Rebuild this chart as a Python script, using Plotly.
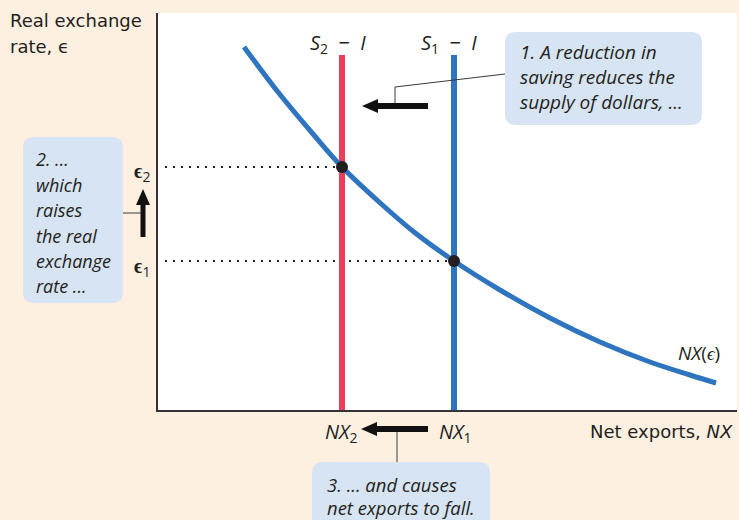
import plotly.graph_objects as go

# ---- data (units = chart axis units) ----
nx_curve_x = [86, 120, 155, 184, 220, 256, 296, 342, 392, 442, 492, 532, 558]
nx_curve_eps = [363, 318, 276, 243, 209, 178, 149, 120, 92, 68, 48, 35, 27]
nx2 = 184      # S2 - I
nx1 = 296      # S1 - I
eps2 = 243
eps1 = 149
supply_top = 355

W, H = 739, 520
ML, MR, MT, MB = 158, 2, 13, 110
PW, PH = W - ML - MR, H - MT - MB

def px(x):
    return (x - ML) / PW

def py(y):
    return (H - MB - y) / PH

CREAM = "#fdf0e0"
BOXC = "#d7e4f3"
BLUE = "#2f74bf"
RED = "#e8405c"
INK = "#231f20"
FONT = "Open Sans"
UFONT = "DejaVu Sans"

fig = go.Figure()

# dotted guide lines
fig.add_trace(go.Scatter(x=[7, nx2], y=[eps2, eps2], mode="lines",
                         line=dict(color=INK, width=2, dash="2px,6px"), hoverinfo="skip"))
fig.add_trace(go.Scatter(x=[7, nx1], y=[eps1, eps1], mode="lines",
                         line=dict(color=INK, width=2, dash="2px,6px"), hoverinfo="skip"))
# supply lines
fig.add_trace(go.Scatter(x=[nx2, nx2], y=[0, supply_top], mode="lines",
                         line=dict(color=RED, width=6), hoverinfo="skip"))
fig.add_trace(go.Scatter(x=[nx1, nx1], y=[0, supply_top], mode="lines",
                         line=dict(color=BLUE, width=6), hoverinfo="skip"))
# NX curve
fig.add_trace(go.Scatter(x=nx_curve_x, y=nx_curve_eps, mode="lines",
                         line=dict(color=BLUE, width=5, shape="spline", smoothing=1.0),
                         hoverinfo="skip"))
# equilibrium points
fig.add_trace(go.Scatter(x=[nx2, nx1], y=[eps2, eps1], mode="markers",
                         marker=dict(color=INK, size=12), hoverinfo="skip"))

shapes = []

def rbox(x0, y0, x1, y1, r=11):
    p = (f"M {px(x0+r)},{py(y0)} L {px(x1-r)},{py(y0)} "
         f"Q {px(x1)},{py(y0)} {px(x1)},{py(y0+r)} "
         f"L {px(x1)},{py(y1-r)} Q {px(x1)},{py(y1)} {px(x1-r)},{py(y1)} "
         f"L {px(x0+r)},{py(y1)} Q {px(x0)},{py(y1)} {px(x0)},{py(y1-r)} "
         f"L {px(x0)},{py(y0+r)} Q {px(x0)},{py(y0)} {px(x0+r)},{py(y0)} Z")
    shapes.append(dict(type="path", path=p, xref="paper", yref="paper",
                       fillcolor=BOXC, line=dict(width=0), layer="above"))

def seg(x0, y0, x1, y1, w=1, c="#3a3a3a"):
    shapes.append(dict(type="line", xref="paper", yref="paper",
                       x0=px(x0), y0=py(y0), x1=px(x1), y1=py(y1),
                       line=dict(color=c, width=w), layer="above"))

def tri(pts):
    p = "M " + " L ".join(f"{px(a)},{py(b)}" for a, b in pts) + " Z"
    shapes.append(dict(type="path", path=p, xref="paper", yref="paper",
                       fillcolor="#111", line=dict(width=0), layer="above"))

rbox(505, 32, 702, 125)
rbox(23, 137, 123, 303)
rbox(312, 462, 490, 535)

# leaders
seg(505, 74, 395, 87)
seg(395, 87, 395, 104)
seg(123, 213, 141, 213)
seg(397, 430, 397, 462)

# arrows
seg(428, 106, 375, 106, w=6, c="#111")
tri([(362, 106), (378, 99), (378, 113)])
seg(428, 429, 374, 429, w=6, c="#111")
tri([(361, 429), (377, 422), (377, 436)])
seg(143, 237, 143, 203, w=5, c="#111")
tri([(143, 189), (136, 205), (150, 205)])

ann = []

def txt(x, y, s, size=18, xa="left", color=INK, family=FONT):
    ann.append(dict(x=px(x), y=py(y), xref="paper", yref="paper", text=s,
                    showarrow=False, xanchor=xa, yanchor="middle",
                    font=dict(family=family, size=size, color=color)))

txt(8, 21, "Real exchange", size=18, family=UFONT)
txt(8, 46, "rate, ϵ", size=18, family=UFONT)

for i, line in enumerate(["1. A reduction in", "saving reduces the", "supply of dollars, ..."]):
    txt(518, 52 + 25 * i, "<i>" + line + "</i>", size=19)
for i, line in enumerate(["2. ...", "which", "raises", "the real", "exchange", "rate ..."]):
    txt(34, 159 + 25.5 * i, "<i>" + line + "</i>", size=18)
for i, line in enumerate(["3. ... and causes", "net exports to fall."]):
    txt(325, 484 + 23.5 * i, "<i>" + line + "</i>", size=18.5)

txt(338, 43, "<i>S</i><sub>2</sub>  −  <i>I</i>", xa="center", size=20)
txt(449, 43, "<i>S</i><sub>1</sub>  −  <i>I</i>", xa="center", size=20)
txt(142, 171, "<b>ϵ</b><sub>2</sub>", xa="center", size=20)
txt(142, 266, "<b>ϵ</b><sub>1</sub>", xa="center", size=20)
txt(341, 432, "<i>NX</i><sub>2</sub>", xa="center", size=20)
txt(455, 432, "<i>NX</i><sub>1</sub>", xa="center", size=20)
txt(735, 431, "Net exports, <i>NX</i>", xa="right", size=18, family=UFONT)
txt(722, 353, "<i>NX</i>(<i>ϵ</i>)", xa="right", size=19)

fig.update_layout(
    width=W, height=H,
    margin=dict(l=ML, r=MR, t=MT, b=MB),
    paper_bgcolor=CREAM, plot_bgcolor="white",
    showlegend=False,
    shapes=shapes, annotations=ann,
    xaxis=dict(range=[0, PW], showgrid=False, zeroline=False, showticklabels=False,
               ticks="", showline=True, linecolor="#333", linewidth=2, fixedrange=True),
    yaxis=dict(range=[0, PH], showgrid=False, zeroline=False, showticklabels=False,
               ticks="", showline=True, linecolor="#333", linewidth=2, fixedrange=True),
)

fig.write_html("out.html", config=dict(displayModeBar=False),
               post_script="document.body.style.margin='0';document.body.style.overflow='hidden';")
